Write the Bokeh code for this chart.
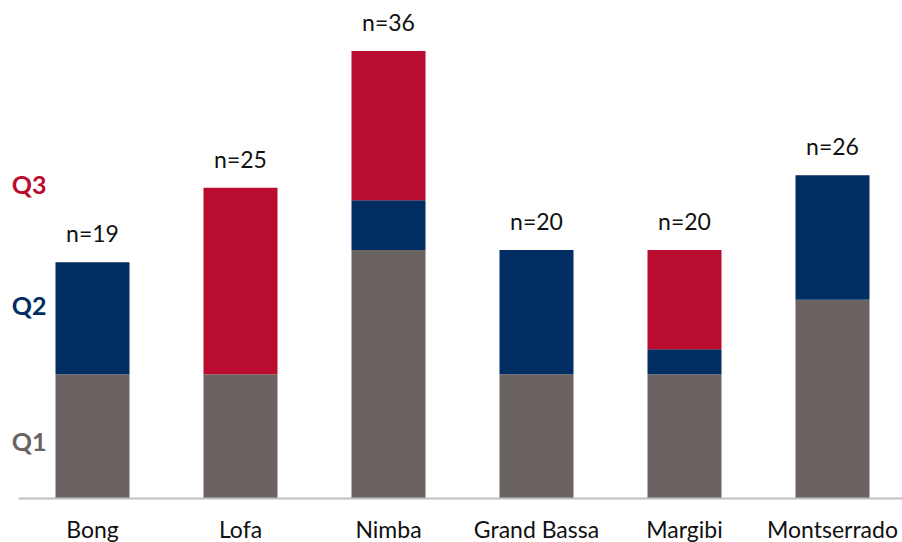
from bokeh.plotting import figure
from bokeh.models import ColumnDataSource, Range1d, FixedTicker
from bokeh.core.properties import value
from bokeh.embed import file_html
from bokeh.resources import INLINE

counties = ["Bong", "Lofa", "Nimba", "Grand Bassa", "Margibi", "Montserrado"]
q1 = [10, 10, 20, 10, 10, 16]
q2 = [9, 0, 4, 10, 2, 10]
q3 = [0, 15, 12, 0, 8, 0]
totals = [19, 25, 36, 20, 20, 26]
tier_names = ["Q1", "Q2", "Q3"]

FONT = "Lato"
COLORS = ["#6B6361", "#002D62", "#BA0C2F"]

x = list(range(len(counties)))
src = ColumnDataSource(dict(
    x=x, q1=q1, q2=q2, q3=q3,
    total=totals,
    label=["n=%d" % t for t in totals],
))

p = figure(frame_width=902, frame_height=498, output_backend="svg",
           toolbar_location=None,
           x_range=Range1d(-0.6216, 5.473), y_range=Range1d(0, 40.07),
           min_border_left=0, min_border_right=0, min_border_top=0,
           min_border_bottom=0)

p.vbar_stack(["q1", "q2", "q3"], x="x", width=0.5, source=src,
             color=COLORS, line_color=None)

p.text(x="x", y="total", text="label", source=src,
       text_align="center", text_baseline="middle", y_offset=-29,
       text_font=value(FONT), text_font_size="23px", text_color="#111111")

# tier labels on the left side
tier_y = [4.6, 15.6, 25.3]
p.text(x=[-0.428] * 3, y=tier_y, text=tier_names, text_align="center",
       text_baseline="middle", text_font=value(FONT), text_font_size="25px",
       text_font_style="bold", text_color=COLORS)

p.yaxis.visible = False
p.xgrid.visible = False
p.ygrid.visible = False
p.outline_line_color = None

ax = p.xaxis[0]
ax.ticker = FixedTicker(ticks=x)
ax.bounds = (-0.5, 5.473)
ax.major_label_overrides = {i: c for i, c in zip(x, counties)}
ax.major_tick_line_color = None
ax.minor_tick_line_color = None
ax.axis_line_color = "#BFBFBF"
ax.axis_line_width = 2
ax.major_label_standoff = 10
ax.major_label_text_font = FONT
ax.major_label_text_font_size = "23px"
ax.major_label_text_color = "#111111"

open("out.html", "w").write(file_html(p, INLINE))
